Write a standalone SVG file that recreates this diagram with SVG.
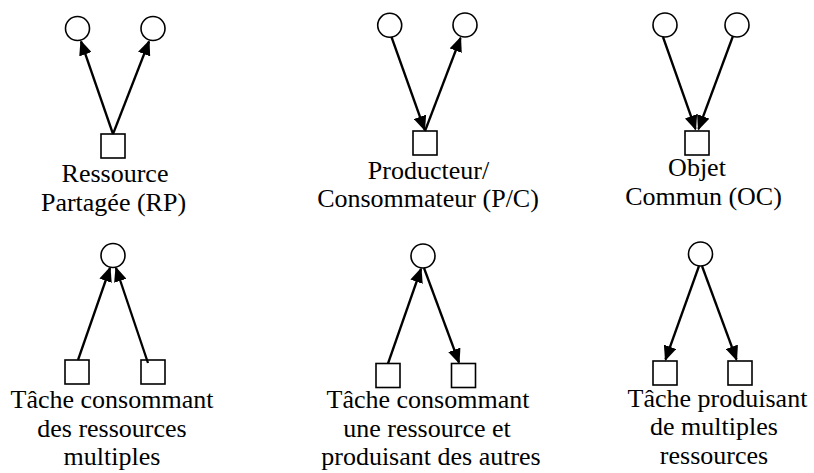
<svg xmlns="http://www.w3.org/2000/svg" width="814" height="473" viewBox="0 0 814 473">
<style>
.c{fill:#fff;stroke:#000;stroke-width:1.6}
.s{fill:#fff;stroke:#000;stroke-width:1.6}
.e{stroke:#000;stroke-width:2.3;fill:none;marker-end:url(#ah)}
.t{font-family:'Liberation Serif','DejaVu Serif',serif;font-size:26px;fill:#000;text-anchor:middle}
</style>
<defs>
<marker id="ah" markerUnits="userSpaceOnUse" markerWidth="15" markerHeight="13" viewBox="0 0 15 13" refX="13.5" refY="6.5" orient="auto">
<path d="M0,0 L15,6.5 L0,13 z" fill="#000"/>
</marker>
</defs>
<rect width="814" height="473" fill="#fff"/>

<g id="rp">
<circle class="c" cx="77.5" cy="28.5" r="12"/>
<circle class="c" cx="153" cy="28.5" r="12"/>
<rect class="s" x="101" y="134" width="24" height="24"/>
<text class="t" font-family="Liberation Serif, serif" x="115" y="181.5">Ressource</text>
<text class="t" font-family="Liberation Serif, serif" x="113.5" y="210.5">Partagée (RP)</text>
</g>

<g id="pc">
<circle class="c" cx="389.7" cy="25.3" r="12"/>
<circle class="c" cx="465" cy="25" r="12"/>
<rect class="s" x="413" y="131" width="24" height="24"/>
<text class="t" x="428.5" y="178.5">Producteur/</text>
<text class="t" x="428" y="207">Consommateur (P/C)</text>
</g>

<g id="oc">
<circle class="c" cx="665" cy="25" r="12"/>
<circle class="c" cx="737" cy="25" r="12"/>
<rect class="s" x="685" y="131" width="24" height="24"/>
<text class="t" x="697" y="175.5">Objet</text>
<text class="t" x="703.5" y="204.5">Commun (OC)</text>
</g>

<g id="tcm">
<circle class="c" cx="113" cy="255.5" r="12"/>
<rect class="s" x="65" y="360" width="24" height="24"/>
<rect class="s" x="141" y="360" width="24" height="24"/>
<text class="t" x="112" y="408">Tâche consommant</text>
<text class="t" x="112" y="436.5">des ressources</text>
<text class="t" x="112" y="465">multiples</text>
</g>

<g id="tcp">
<circle class="c" cx="423" cy="256" r="12"/>
<rect class="s" x="376" y="363.5" width="24" height="24"/>
<rect class="s" x="451.5" y="363.5" width="24" height="24"/>
<text class="t" x="428" y="408">Tâche consommant</text>
<text class="t" x="427" y="436.5">une ressource et</text>
<text class="t" x="431" y="465">produisant des autres</text>
</g>

<g id="tpm">
<circle class="c" cx="700.5" cy="254" r="12"/>
<rect class="s" x="653" y="361" width="24" height="24"/>
<rect class="s" x="728" y="361" width="24" height="24"/>
<text class="t" x="717.5" y="406.5">Tâche produisant</text>
<text class="t" x="714" y="435">de multiples</text>
<text class="t" x="714" y="463.5">ressources</text>
</g>

<g id="connectors">
<line class="e" x1="113" y1="134" x2="81" y2="41.5"/>
<line class="e" x1="113" y1="134" x2="149" y2="41.5"/>
<line class="e" x1="391.5" y1="37" x2="424.5" y2="129.5"/>
<line class="e" x1="425" y1="131" x2="460.5" y2="38"/>
<line class="e" x1="663" y1="37" x2="695.5" y2="129"/>
<line class="e" x1="733" y1="36" x2="698.5" y2="129"/>
<line class="e" x1="78" y1="360" x2="110" y2="268"/>
<line class="e" x1="148" y1="363" x2="116" y2="268"/>
<line class="e" x1="388" y1="363.5" x2="421" y2="269"/>
<line class="e" x1="424" y1="268" x2="459" y2="362.5"/>
<line class="e" x1="699" y1="266" x2="665.5" y2="359.5"/>
<line class="e" x1="702" y1="266" x2="736.5" y2="359.5"/>
</g>
</svg>
